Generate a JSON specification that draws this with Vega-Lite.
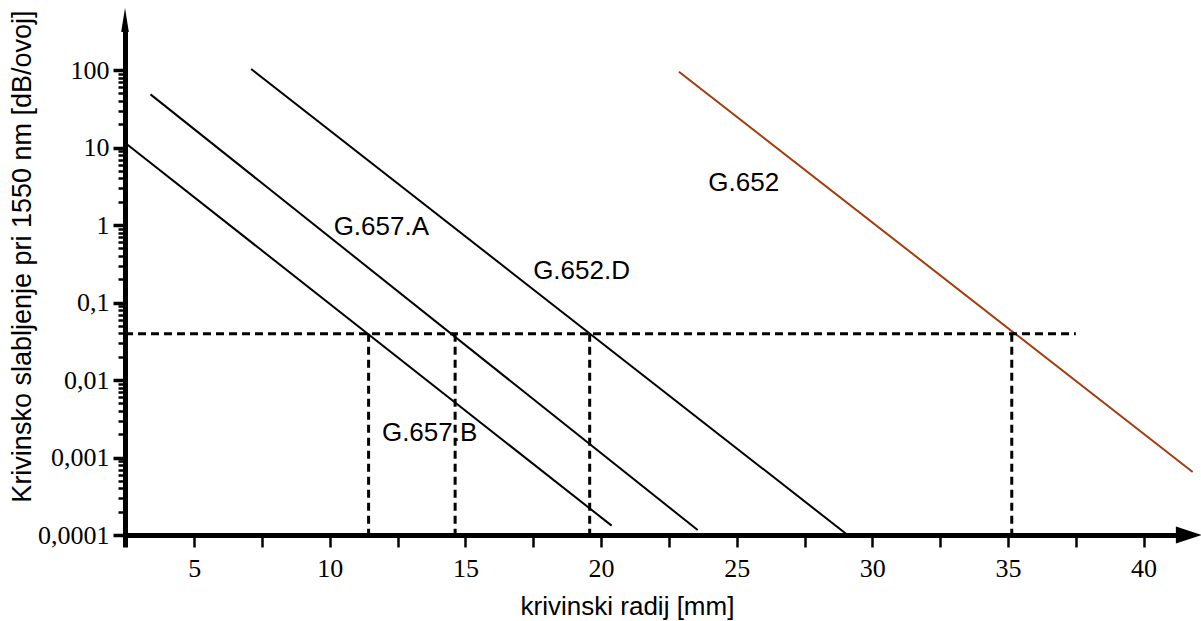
{
  "$schema": "https://vega.github.io/schema/vega-lite/v6.json",
  "width": 1062,
  "height": 508,
  "autosize": {"type": "none"},
  "padding": {"left": 125, "top": 27, "right": 14, "bottom": 86},
  "background": "white",
  "config": {"view": {"stroke": null}, "axis": {"grid": false}},
  "datasets": {
    "curves": [
      {"series": "G.657.B", "x": 2.45, "y": 11.5},
      {"series": "G.657.B", "x": 20.39, "y": 0.000132},
      {"series": "G.657.A", "x": 3.39, "y": 48.5},
      {"series": "G.657.A", "x": 23.56, "y": 0.000116},
      {"series": "G.652.D", "x": 7.1, "y": 103},
      {"series": "G.652.D", "x": 29.09, "y": 0.0001},
      {"series": "G.652", "x": 22.87, "y": 95},
      {"series": "G.652", "x": 41.81, "y": 0.00065}
    ],
    "hdash": [{"x": 2.45, "x2": 37.5, "y": 0.0395}],
    "vdash": [
      {"x": 11.43, "y": 0.0395, "y2": 0.0001},
      {"x": 14.62, "y": 0.0395, "y2": 0.0001},
      {"x": 19.58, "y": 0.0395, "y2": 0.0001},
      {"x": 35.14, "y": 0.0395, "y2": 0.0001}
    ],
    "labels": [
      {"label": "G.657.A", "x": 11.9, "y": 0.94},
      {"label": "G.652.D", "x": 19.28, "y": 0.255},
      {"label": "G.652", "x": 25.26, "y": 3.53},
      {"label": "G.657.B", "x": 13.68, "y": 0.00207}
    ],
    "yarrow": [{"x": 2.45, "y": 441}],
    "xarrow": [{"x": 41.67, "y": 0.0001}]
  },
  "encoding": {
    "x": {
      "field": "x",
      "type": "quantitative",
      "scale": {"domain": [2.45, 41.6], "nice": false, "zero": false},
      "axis": {
        "values": [2.45, 5, 7.5, 10, 12.5, 15, 17.5, 20, 22.5, 25, 27.5, 30, 32.5, 35, 37.5, 40],
        "labelExpr": "datum.value % 5 == 0 ? format(datum.value, 'd') : ''",
        "domainColor": "black",
        "domainWidth": 5,
        "tickColor": "black",
        "tickWidth": {"condition": {"test": "datum.value < 3", "value": 5}, "value": 2.5},
        "tickSize": 12,
        "labelFont": "Liberation Serif",
        "labelFontSize": 26,
        "labelColor": "black",
        "labelPadding": 8,
        "labelFlush": false,
        "labelOverlap": false,
        "labelBound": false,
        "title": "krivinski radij [mm]",
        "titleFont": "Liberation Sans",
        "titleFontSize": 26,
        "titleFontWeight": "normal",
        "titleColor": "black",
        "titleX": 502,
        "titleY": 71,
        "titleBaseline": "middle",
        "titleAlign": "center",
        "titleAnchor": null
      }
    },
    "y": {
      "field": "y",
      "type": "quantitative",
      "scale": {"type": "log", "domain": [0.0001, 359], "nice": false, "zero": false},
      "axis": {
        "values": [0.0001, 0.0002, 0.0003, 0.0004, 0.0005, 0.0006, 0.0007, 0.0008, 0.0009,
                   0.001, 0.002, 0.003, 0.004, 0.005, 0.006, 0.007, 0.008, 0.009,
                   0.01, 0.02, 0.03, 0.04, 0.05, 0.06, 0.07, 0.08, 0.09,
                   0.1, 0.2, 0.3, 0.4, 0.5, 0.6, 0.7, 0.8, 0.9,
                   1, 2, 3, 4, 5, 6, 7, 8, 9,
                   10, 20, 30, 40, 50, 60, 70, 80, 90, 100],
        "labelExpr": "datum.value == 100 ? '100' : datum.value == 10 ? '10' : datum.value == 1 ? '1' : datum.value == 0.1 ? '0,1' : datum.value == 0.01 ? '0,01' : datum.value == 0.001 ? '0,001' : datum.value == 0.0001 ? '0,0001' : ''",
        "domainColor": "black",
        "domainWidth": 5,
        "tickColor": "black",
        "tickSize": {"condition": {"test": "indexof([0.0001, 0.001, 0.01, 0.1, 1, 10, 100], datum.value) >= 0", "value": 12}, "value": 7},
        "tickWidth": {"condition": {"test": "indexof([0.0001, 0.001, 0.01, 0.1, 1, 10, 100], datum.value) >= 0", "value": 3.5}, "value": 2.5},
        "labelFont": "Liberation Serif",
        "labelFontSize": 26,
        "labelColor": "black",
        "labelPadding": 4,
        "labelOverlap": false,
        "labelBound": false,
        "labelFlush": false,
        "title": "Krivinsko slabljenje pri 1550 nm [dB/ovoj]",
        "titleFont": "Liberation Sans",
        "titleFontSize": 27,
        "titleFontWeight": "normal",
        "titleColor": "black",
        "titleAngle": 270,
        "titleX": -103,
        "titleY": 229,
        "titleBaseline": "middle",
        "titleAlign": "center",
        "titleAnchor": null
      }
    }
  },
  "layer": [
    {
      "data": {"name": "curves"},
      "mark": {"type": "line", "strokeWidth": 2, "clip": false},
      "encoding": {
        "detail": {"field": "series"},
        "color": {
          "field": "series",
          "type": "nominal",
          "scale": {"domain": ["G.657.B", "G.657.A", "G.652.D", "G.652"], "range": ["#000000", "#000000", "#000000", "#a33c0c"]},
          "legend": null
        }
      }
    },
    {
      "data": {"name": "hdash"},
      "mark": {"type": "rule", "color": "black", "strokeWidth": 3, "strokeDash": [8, 5]},
      "encoding": {"x2": {"field": "x2"}}
    },
    {
      "data": {"name": "vdash"},
      "mark": {"type": "rule", "color": "black", "strokeWidth": 3, "strokeDash": [8, 5]},
      "encoding": {"y2": {"field": "y2"}}
    },
    {
      "data": {"name": "labels"},
      "mark": {"type": "text", "font": "Liberation Sans", "fontSize": 26, "color": "black", "align": "center", "baseline": "middle"},
      "encoding": {"text": {"field": "label"}}
    },
    {
      "data": {"name": "yarrow"},
      "mark": {"type": "point", "shape": "M0,-1L-0.32,1L0.32,1Z", "size": 576, "filled": true, "color": "black", "opacity": 1, "strokeWidth": 0}
    },
    {
      "data": {"name": "xarrow"},
      "mark": {"type": "point", "shape": "M1,0L-1,-0.65L-1,0.65Z", "size": 676, "filled": true, "color": "black", "opacity": 1, "strokeWidth": 0, "clip": false}
    }
  ]
}
